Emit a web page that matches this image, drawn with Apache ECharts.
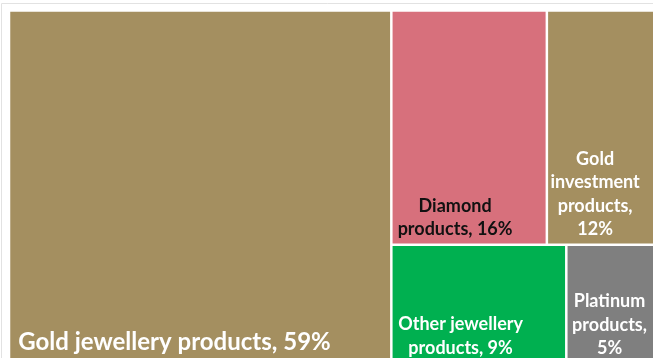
<!DOCTYPE html>
<html>
<head>
<meta charset="utf-8">
<script src="https://cdn.jsdelivr.net/npm/echarts@6/dist/echarts.min.js"></script>
<style>
  html, body { margin: 0; padding: 0; background: #fff; }
  #chart { width: 653px; height: 358px; }
</style>
</head>
<body>
<div id="chart"></div>
<script>
// Product categories and their share of sales (%)
const categories = [
  'Gold jewellery products',
  'Diamond products',
  'Gold investment products',
  'Other jewellery products',
  'Platinum products'
];
const shares = [59, 16, 12, 9, 5];

// Tile appearance, one entry per category
const tileColors = ['#A48F60', '#D7707C', '#A48F60', '#00B050', '#7F7F7F'];
const textColors = ['#ffffff', '#111111', '#ffffff', '#ffffff', '#ffffff'];
const FONT_FAMILY = 'Lato, "Open Sans", sans-serif';

// Label placement inside each tile: anchor [x, y] from the tile's top-left,
// horizontal alignment, font size, line height and wrap width
const labelLayout = [
  { pos: [3, 311],      align: 'left',   size: 24, lh: 30,   wrap: 9999 },
  { pos: [62.5, 177.5], align: 'center', size: 18, lh: 23.5, wrap: 130 },
  { pos: [47, 130.5],   align: 'center', size: 18, lh: 23.5, wrap: 100 },
  { pos: [68, 61.5],    align: 'center', size: 18, lh: 23.5, wrap: 150 },
  { pos: [42, 38.5],    align: 'center', size: 18, lh: 23.5, wrap: 85 }
];

const measureCtx = document.createElement('canvas').getContext('2d');
function wrapWords(text, maxWidth, font) {
  measureCtx.font = font;
  const lines = [];
  let line = '';
  text.split(' ').forEach(function (word) {
    const test = line ? line + ' ' + word : word;
    if (line && measureCtx.measureText(test).width > maxWidth) {
      lines.push(line);
      line = word;
    } else {
      line = test;
    }
  });
  lines.push(line);
  return lines.join('\n');
}

const treeData = categories.map(function (name, i) {
  const lay = labelLayout[i];
  return {
    name: name,
    value: shares[i],
    itemStyle: { color: tileColors[i] },
    label: {
      position: lay.pos,
      align: lay.align,
      verticalAlign: 'top',
      fontSize: lay.size,
      lineHeight: lay.lh,
      color: textColors[i],
      formatter: function (p) {
        const text = p.name + ', ' + p.value + '%';
        return wrapWords(text, lay.wrap, 'bold ' + lay.size + 'px ' + FONT_FAMILY);
      }
    }
  };
});

const chart = echarts.init(document.getElementById('chart'), null, { renderer: 'canvas' });
chart.setOption({
  animation: false,
  backgroundColor: '#ffffff',
  graphic: [{
    type: 'rect',
    silent: true,
    z: -1,
    shape: { x: 1.5, y: 3.5, width: 800, height: 500 },
    style: { fill: null, stroke: '#e2e2e2', lineWidth: 1 }
  }],
  series: [{
    type: 'treemap',
    left: 10.25,
    top: 11.75,
    width: 652,
    height: 349,
    roam: false,
    nodeClick: false,
    breadcrumb: { show: false },
    emphasis: { disabled: true },
    itemStyle: { borderWidth: 0, gapWidth: 2.5, borderColor: '#ffffff' },
    levels: [
      { itemStyle: { borderWidth: 0, gapWidth: 2.5, borderColor: '#ffffff' } }
    ],
    label: {
      show: true,
      fontFamily: FONT_FAMILY,
      fontWeight: 'bold',
      overflow: 'none'
    },
    data: treeData
  }]
});
</script>
</body>
</html>
